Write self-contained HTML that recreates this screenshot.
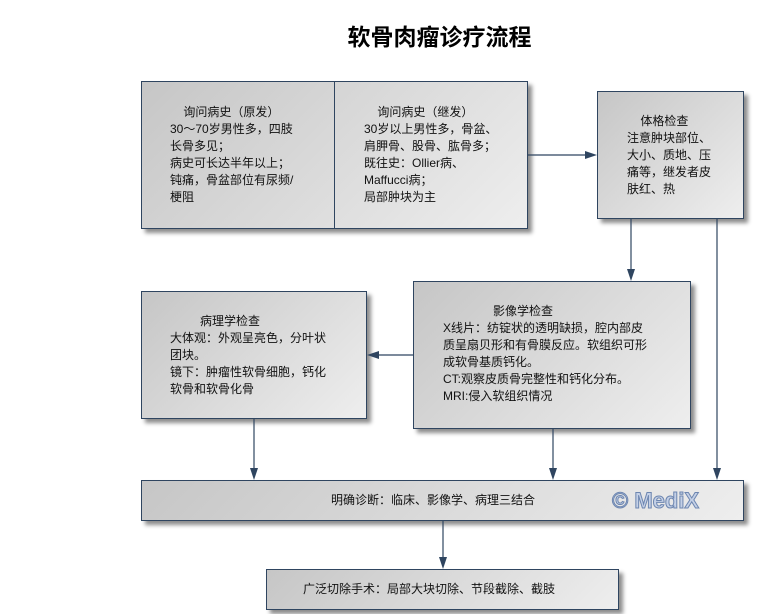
<!DOCTYPE html>
<html><head><meta charset="utf-8"><style>
body{margin:0;width:761px;height:614px;background:#fff;position:relative;overflow:hidden;font-family:"Liberation Sans","Noto Sans CJK SC",sans-serif;font-size:12px;color:#111;}
.b{position:absolute;box-sizing:border-box;border:1px solid #2f4560;background:linear-gradient(135deg,#c6c6c6 0%,#dcdcdc 55%,#eeeeee 100%);box-shadow:4px 4px 4px rgba(0,0,0,0.45);}
.t{position:absolute;line-height:17px;white-space:nowrap;}
.title{position:absolute;left:0;width:879px;text-align:center;top:18px;font-size:23px;font-weight:bold;color:#000;font-family:"Noto Sans CJK SC",sans-serif;}
svg{position:absolute;left:0;top:0;}
</style></head><body>
<div class="title">软骨肉瘤诊疗流程</div>

<div class="b" style="left:141px;top:81px;width:387px;height:148px;"></div>
<div style="position:absolute;left:334px;top:81px;width:1px;height:148px;background:#2f4560"></div>
<div class="b" style="left:597px;top:91px;width:147px;height:128px;"></div>
<div class="b" style="left:141px;top:291px;width:226px;height:128px;"></div>
<div class="b" style="left:413px;top:281px;width:278px;height:148px;"></div>
<div class="b" style="left:141px;top:480px;width:603px;height:41px;"></div>
<div class="b" style="left:266px;top:569px;width:353px;height:41px;"></div>

<svg width="761" height="614">
<g stroke="#2f4560" stroke-width="1.2" fill="none">
<line x1="528" y1="155" x2="590" y2="155"/>
<line x1="631" y1="219" x2="631" y2="275"/>
<line x1="717" y1="219" x2="717" y2="474"/>
<line x1="413" y1="355" x2="373" y2="355"/>
<line x1="254" y1="419" x2="254" y2="474"/>
<line x1="553" y1="429" x2="553" y2="474"/>
<line x1="443" y1="521" x2="443" y2="563"/>
</g>
<g fill="#2f4560">
<polygon points="597,155 585,151 585,159"/>
<polygon points="631,281 627,269 635,269"/>
<polygon points="717,480 713,468 721,468"/>
<polygon points="367,355 379,351 379,359"/>
<polygon points="254,480 250,468 258,468"/>
<polygon points="553,480 549,468 557,468"/>
<polygon points="443,569 439,557 447,557"/>
</g>
<text x="612" y="508" font-family="Liberation Sans, sans-serif" font-size="22" font-weight="bold" fill="#c4d0e6" stroke="#6d86b0" stroke-width="1">© MediX</text>
</svg>

<div class="t" style="left:170px;top:104px;">&nbsp;&nbsp;&nbsp;&nbsp;询问病史（原发）<br>30～70岁男性多，四肢<br>长骨多见；<br>病史可长达半年以上；<br>钝痛，骨盆部位有尿频/<br>梗阻</div>
<div class="t" style="left:364px;top:104px;">&nbsp;&nbsp;&nbsp;&nbsp;询问病史（继发）<br>30岁以上男性多，骨盆、<br>肩胛骨、股骨、肱骨多；<br>既往史：Ollier病、<br>Maffucci病；<br>局部肿块为主</div>
<div class="t" style="left:627px;top:113px;">&nbsp;&nbsp;&nbsp;&nbsp;体格检查<br>注意肿块部位、<br>大小、质地、压<br>痛等，继发者皮<br>肤红、热</div>
<div class="t" style="left:170px;top:313px;">&nbsp;&nbsp;&nbsp;&nbsp;&nbsp;&nbsp;&nbsp;&nbsp;&nbsp;病理学检查<br>大体观：外观呈亮色，分叶状<br>团块。<br>镜下：肿瘤性软骨细胞，钙化<br>软骨和软骨化骨</div>
<div class="t" style="left:443px;top:303px;">&nbsp;&nbsp;&nbsp;&nbsp;&nbsp;&nbsp;&nbsp;&nbsp;&nbsp;&nbsp;&nbsp;&nbsp;&nbsp;&nbsp;&nbsp;影像学检查<br>X线片：纺锭状的透明缺损，腔内部皮<br>质呈扇贝形和有骨膜反应。软组织可形<br>成软骨基质钙化。<br>CT:观察皮质骨完整性和钙化分布。<br>MRI:侵入软组织情况</div>
<div class="t" style="left:331px;top:492px;">明确诊断：临床、影像学、病理三结合</div>
<div class="t" style="left:303px;top:581px;">广泛切除手术：局部大块切除、节段截除、截肢</div>
</body></html>
